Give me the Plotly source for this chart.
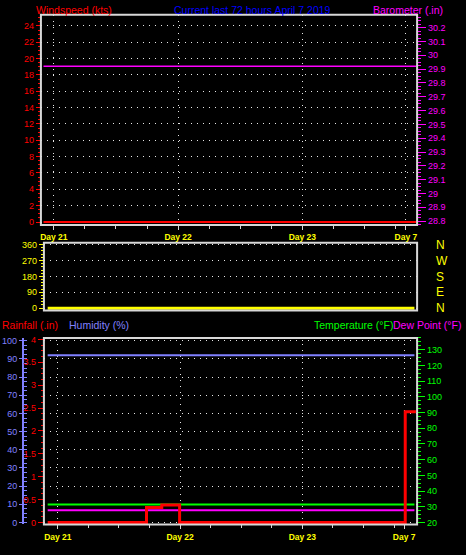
import plotly.graph_objects as go

# ---------------------------------------------------------------------------------------
# Données (heures comptées depuis le repère "Day 21")
# ---------------------------------------------------------------------------------------
day_hours = [0, 24, 48, 68]
day_labels = ["Day 21", "Day 22", "Day 23", "Day 7"]

flat_hours = [-2, 70]
wind_speed = [0, 0]
barometer = [29.92, 29.92]
wind_dir = [0, 0]
humidity = [92, 92]
temperature = [31.5, 31.5]
dew_point = [27.8, 27.8]

rain_hours = [-2, 17.4, 20.4, 23.9, 68.2, 70.3]
rainfall = [0, 0.33, 0.38, 0, 2.42, 2.42]

compass_vals = [0, 90, 180, 270, 360]
compass_text = ["N", "E", "S", "W", "N"]

# ---------------------------------------------------------------------------------------
# Styles
# ---------------------------------------------------------------------------------------
W, H = 466, 555
FONT = "Liberation Sans"
FRAME = "#d8d8d8"
GRID = "#e8e8e8"
RED = "#ff0000"
MAGENTA = "#ff00ff"
YELLOW = "#ffff00"
GREEN = "#00ff00"
LAVENDER = "#8080ff"
BLUE = "#0000ff"


def px_x(p):
    return p / W


def px_y(p):
    return 1 - p / H


six_hours = [h for h in range(0, 72, 6)]

fig = go.Figure()

# panneau du haut : vent + baromètre
fig.add_trace(go.Scatter(x=flat_hours, y=wind_speed, xaxis="x", yaxis="y",
                         mode="lines", line=dict(color=RED, width=2)))
fig.add_trace(go.Scatter(x=flat_hours, y=barometer, xaxis="x", yaxis="y2",
                         mode="lines", line=dict(color=MAGENTA, width=1.5)))

# panneau du milieu : direction du vent (trace invisible pour l'axe des points cardinaux)
fig.add_trace(go.Scatter(x=flat_hours, y=wind_dir, xaxis="x2", yaxis="y3",
                         mode="lines", line=dict(color=YELLOW, width=3)))
fig.add_trace(go.Scatter(x=flat_hours, y=wind_dir, xaxis="x2", yaxis="y4",
                         mode="lines", line=dict(color="rgba(0,0,0,0)", width=0),
                         hoverinfo="skip"))

# panneau du bas : humidité, température, point de rosée, pluie
fig.add_trace(go.Scatter(x=flat_hours, y=humidity, xaxis="x3", yaxis="y5",
                         mode="lines", line=dict(color=LAVENDER, width=2)))
fig.add_trace(go.Scatter(x=flat_hours, y=humidity, xaxis="x3", yaxis="y6",
                         mode="lines", line=dict(color="rgba(0,0,0,0)", width=0),
                         hoverinfo="skip"))
fig.add_trace(go.Scatter(x=flat_hours, y=temperature, xaxis="x3", yaxis="y7",
                         mode="lines", line=dict(color=GREEN, width=2)))
fig.add_trace(go.Scatter(x=flat_hours, y=dew_point, xaxis="x3", yaxis="y7",
                         mode="lines", line=dict(color=MAGENTA, width=2)))
fig.add_trace(go.Scatter(x=rain_hours, y=rainfall, xaxis="x3", yaxis="y8",
                         mode="lines", line=dict(color=RED, width=3, shape="hv")))

day_axis = dict(
    tickmode="array", tickvals=day_hours, ticktext=day_labels,
    ticks="outside", ticklen=4, tickcolor=FRAME, tickwidth=1,
    tickfont=dict(color=YELLOW, size=8.5, family=FONT, weight="bold"),
    showgrid=True, gridcolor=GRID, griddash="1px,5px", gridwidth=1,
    minor=dict(tickmode="array", tickvals=six_hours, ticks="outside", ticklen=3,
               tickcolor=FRAME, showgrid=False),
    showline=False, zeroline=False, fixedrange=True,
)

fig.update_layout(
    width=W, height=H,
    margin=dict(l=0, r=0, t=0, b=0),
    paper_bgcolor="black", plot_bgcolor="black",
    showlegend=False,
    font=dict(family=FONT),
    xaxis=dict(domain=[px_x(40), px_x(417)], range=[-2.5, 70.17], anchor="y", **day_axis),
    yaxis=dict(domain=[px_y(224), px_y(10)], range=[-0.36, 25.36], anchor="x",
               tick0=0, dtick=2, ticks="outside", ticklen=4, tickcolor=RED,
               tickfont=dict(color=RED, size=9),
               minor=dict(dtick=0.5, ticks="outside", ticklen=2, tickcolor=RED, showgrid=False),
               showgrid=True, gridcolor=GRID, griddash="1px,5px", zeroline=False),
    yaxis2=dict(overlaying="y", side="right", anchor="x", range=[28.772, 30.293],
                tick0=28.8, dtick=0.1, ticks="outside", ticklen=8, tickcolor=MAGENTA,
                tickfont=dict(color=MAGENTA, size=9),
                minor=dict(dtick=0.025, ticks="outside", ticklen=3, tickcolor=MAGENTA),
                showgrid=False, zeroline=False),
    xaxis2=dict(domain=[px_x(43), px_x(417)], range=[-2.74, 70.53], anchor="y3",
                showticklabels=False, ticks="", showgrid=False, zeroline=False),
    yaxis3=dict(domain=[px_y(311), px_y(242)], range=[-12.8, 371.2], anchor="x2",
                tick0=0, dtick=90, ticks="outside", ticklen=4, tickcolor=YELLOW,
                tickfont=dict(color=YELLOW, size=9),
                minor=dict(dtick=18, ticks="outside", ticklen=2, tickcolor=YELLOW, showgrid=False),
                showgrid=True, gridcolor=GRID, griddash="1px,5px", zeroline=False),
    yaxis4=dict(overlaying="y3", side="right", anchor="x2", range=[-12.8, 371.2],
                tickmode="array", tickvals=compass_vals, ticktext=compass_text,
                ticks="", ticklabelstandoff=18,
                tickfont=dict(color=YELLOW, size=12),
                showgrid=False, zeroline=False),
    xaxis3=dict(domain=[px_x(43), px_x(417)], range=[-2.74, 70.53], anchor="y5", **day_axis),
    yaxis5=dict(domain=[px_y(529), px_y(339)], range=[-1.08, 101.6], anchor="x3",
                tick0=0, dtick=10, ticks="", showticklabels=False,
                showgrid=True, gridcolor=GRID, griddash="1px,5px", zeroline=False),
    yaxis6=dict(overlaying="y5", anchor="free", position=px_x(22), side="left",
                range=[-1.08, 101.6], tick0=0, dtick=10,
                ticks="outside", ticklen=3, tickcolor=LAVENDER,
                tickfont=dict(color=LAVENDER, size=9),
                minor=dict(dtick=2.5, ticks="inside", ticklen=3, tickcolor=LAVENDER),
                showline=True, linecolor=LAVENDER, linewidth=2,
                showgrid=False, zeroline=False),
    yaxis7=dict(overlaying="y5", side="right", anchor="x3", range=[18.75, 137.5],
                tick0=0, dtick=10, ticks="outside", ticklen=7, tickcolor=GREEN,
                tickfont=dict(color=GREEN, size=9),
                minor=dict(dtick=2.5, ticks="outside", ticklen=3, tickcolor=GREEN),
                showgrid=False, zeroline=False),
    yaxis8=dict(overlaying="y5", side="left", anchor="x3", range=[-0.043, 4.034],
                tick0=0, dtick=0.5, ticks="outside", ticklen=5, tickcolor=RED,
                tickfont=dict(color=RED, size=9),
                minor=dict(dtick=0.125, ticks="outside", ticklen=2, tickcolor=RED),
                showgrid=False, zeroline=False),
)

# cadres des trois panneaux
for xr, yr in [("x", "y"), ("x2", "y3"), ("x3", "y5")]:
    fig.add_shape(type="rect", xref=f"{xr} domain", yref=f"{yr} domain",
                  x0=0, x1=1, y0=0, y1=1, line=dict(color=FRAME, width=2), layer="above")

# titres
titles = [
    ("Windspeed (kts)", 34, 5, RED),
    ("Current last 72 hours April 7 2019", 172, 5, BLUE),
    ("Barometer (.in)", 372, 5, MAGENTA),
    ("Rainfall (.in)", 0, 326, RED),
    ("Humidity (%)", 67, 326, LAVENDER),
    ("Temperature (°F)", 313, 326, GREEN),
    ("Dew Point (°F)", 392, 326, MAGENTA),
]
for text, x0, yc, color in titles:
    fig.add_annotation(text=text, xref="paper", yref="paper", x=px_x(x0), y=px_y(yc),
                       xanchor="left", yanchor="middle", showarrow=False,
                       borderpad=0, font=dict(color=color, size=10.5, family=FONT))

# page sans marge et sans barre d'outils pour que la figure occupe toute la fenêtre
fig.write_html("out.html", config={"displayModeBar": False},
               post_script="document.body.style.margin='0px';")
